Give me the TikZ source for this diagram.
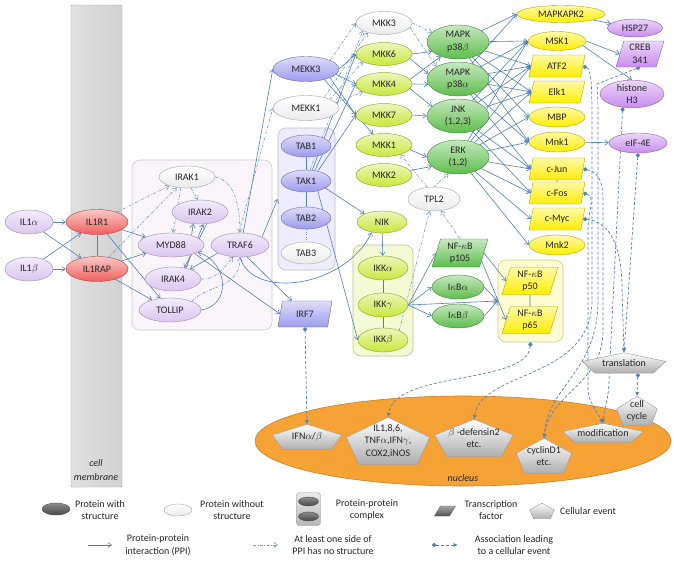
\documentclass[tikz,border=0pt]{standalone}
\usepackage{fontspec}
\setmainfont{Carlito}
\usetikzlibrary{shapes.geometric,arrows.meta,calc,backgrounds}
\pgfdeclarelayer{edges}
\pgfdeclarelayer{pent}
\pgfsetlayers{background,edges,pent,main}
\definecolor{ec}{HTML}{4F81BD}
\definecolor{lav}{HTML}{DCC6F2}
\definecolor{redn}{HTML}{F0605E}
\definecolor{bv}{HTML}{9D9BEE}
\definecolor{purp}{HTML}{C88CEE}
\definecolor{yg}{HTML}{C8E83A}
\definecolor{grn}{HTML}{5DBE4B}
\definecolor{yel}{HTML}{FFEE00}
\definecolor{orng}{HTML}{F7A234}
\newcommand{\pentfill}[1]{\path[pentsh] (#1.north) -- ($(#1.north east)!0.42!(#1.south east)$) -- ($(#1.south east)!0.15!(#1.south west)$) -- ($(#1.south west)!0.15!(#1.south east)$) -- ($(#1.north west)!0.42!(#1.south west)$) -- cycle;}
\tikzset{
  base/.style={font=\fontsize{10}{12.5}\selectfont, text=black!85, inner sep=0pt, align=center, line width=0.4pt},
  ell/.style={base, ellipse},
  tfbox/.style={base, trapezium, trapezium left angle=75, trapezium right angle=105, trapezium stretches=true},
  sz/.style 2 args={minimum width=#1pt, minimum height=#2pt},
  col/.style={top color=#1!35!white, bottom color=#1, draw=#1!70!black},
  wht/.style={top color=white, bottom color=black!8, draw=black!35},
  grp/.style={rounded corners=8pt, inner sep=0pt, line width=0.6pt},
  pentsh/.style={top color=white, bottom color=black!32, draw=black!40, line width=0.4pt},
  ppi/.style={draw=ec, line width=0.6pt, -{Straight Barb[length=3.5pt,width=5pt]}},
  lnk/.style={draw=ec, line width=0.6pt},
  dd/.style={draw=ec!80, line width=0.6pt, dash pattern=on 3pt off 1.5pt on 0.8pt off 1.5pt, -{Straight Barb[length=3.5pt,width=5pt]}},
  ddl/.style={draw=ec!80, line width=0.6pt, dash pattern=on 1pt off 1.5pt},
  assoc/.style={draw=ec, line width=0.7pt, dash pattern=on 3pt off 2pt, {Circle[length=4.2pt,width=4.2pt]}-{Latex[length=4.5pt,width=4pt]}},
}
\begin{document}
\begin{tikzpicture}[x=1pt,y=-1pt]
\useasboundingbox (0,0) rectangle (674,560);
\begin{pgfonlayer}{background}
\fill[white] (0,0) rectangle (674,560);
\node[draw=black!35, left color=black!12, right color=black!18, inner sep=0pt, sz={51}{482}, rounded corners=1pt] (mem) at (96.5,246) {};
\node[ellipse, fill=orng, draw=orng!80!black, line width=0.6pt, sz={416}{90}] (nuc) at (463,441) {};
\node[grp, fill=violet!4, draw=black!20, sz={140}{170}] (IRAKbox) at (202,245) {};
\node[grp, fill=blue!7, draw=black!25, sz={57}{142}] (TABbox) at (306.5,199) {};
\node[grp, fill=yg!22, draw=yg!60!black!50, sz={60}{111}] (IKKbox) at (383,300.5) {};
\node[grp, fill=yel!18, draw=yel!60!black!50, sz={65}{82}] (NFbox) at (530.5,301) {};
\end{pgfonlayer}

\node[base, font=\fontsize{10}{14}\selectfont\itshape] (memlab) at (96,470) {cell\\membrane};
\node[base, font=\fontsize{10}{12}\selectfont\itshape] (nuclab) at (463,478) {nucleus};

% receptors
\node[ell, sz={48}{24}, col=lav] (IL1a) at (29,222) {IL1$\alpha$};
\node[ell, sz={48}{24}, col=lav] (IL1b) at (29,269) {IL1$\beta$};
\node[ell, sz={62}{25}, col=redn] (IL1R1) at (97,222) {IL1R1};
\node[ell, sz={62}{25}, col=redn] (IL1RAP) at (97,269) {IL1RAP};
% IRAK complex
\node[ell, sz={56}{22}, wht] (IRAK1) at (187,177) {IRAK1};
\node[ell, sz={56}{24}, col=lav] (IRAK2) at (200,212) {IRAK2};
\node[ell, sz={66}{24}, col=lav] (MYD88) at (171,245) {MYD88};
\node[ell, sz={58}{24}, col=lav] (TRAF6) at (240,245) {TRAF6};
\node[ell, sz={56}{24}, col=lav] (IRAK4) at (173,279) {IRAK4};
\node[ell, sz={62}{24}, col=lav] (TOLLIP) at (170,310) {TOLLIP};
% MEKK / TAB
\node[ell, sz={66}{25}, col=bv] (MEKK3) at (306,69) {MEKK3};
\node[ell, sz={66}{25}, wht] (MEKK1) at (306,108) {MEKK1};
\node[ell, sz={50}{22}, col=bv] (TAB1) at (306,146) {TAB1};
\node[ell, sz={50}{22}, col=bv] (TAK1) at (306,181) {TAK1};
\node[ell, sz={50}{22}, col=bv] (TAB2) at (306,218) {TAB2};
\node[ell, sz={50}{22}, wht] (TAB3) at (306,253) {TAB3};
\node[tfbox, sz={54}{26}, col=bv] (IRF7) at (305,314) {IRF7};
% MKK
\node[ell, sz={56}{23}, wht] (MKK3) at (384,23) {MKK3};
\node[ell, sz={56}{23}, col=yg] (MKK6) at (384,54) {MKK6};
\node[ell, sz={56}{23}, col=yg] (MKK4) at (384,84) {MKK4};
\node[ell, sz={56}{23}, col=yg] (MKK7) at (384,115) {MKK7};
\node[ell, sz={56}{23}, col=yg] (MKK1) at (384,145) {MKK1};
\node[ell, sz={56}{23}, col=yg] (MKK2) at (384,175) {MKK2};
% MAPK
\node[ell, sz={62}{34}, col=grn] (p38b) at (458,42) {MAPK\\p38$\beta$};
\node[ell, sz={62}{34}, col=grn] (p38a) at (458,79) {MAPK\\p38$\alpha$};
\node[ell, sz={62}{34}, col=grn] (JNK) at (458,116) {JNK\\(1,2,3)};
\node[ell, sz={62}{34}, col=grn] (ERK) at (458,157) {ERK\\(1,2)};
\node[ell, sz={52}{24}, wht] (TPL2) at (434,199) {TPL2};
% NF-kB pathway
\node[ell, sz={50}{22}, col=yg] (NIK) at (382,222) {NIK};
\node[ell, sz={50}{24}, col=yg] (IKKa) at (383,268) {IKK$\alpha$};
\node[ell, sz={50}{24}, col=yg] (IKKg) at (383,305) {IKK$\gamma$};
\node[ell, sz={50}{24}, col=yg] (IKKb) at (383,340) {IKK$\beta$};
\node[tfbox, sz={56}{28}, col=grn] (p105) at (460,253) {NF-$\kappa$B\\p105};
\node[ell, sz={52}{24}, col=grn] (IkBa) at (458,287) {I$\kappa$B$\alpha$};
\node[ell, sz={52}{24}, col=grn] (IkBb) at (458,316) {I$\kappa$B$\beta$};
\node[tfbox, sz={56}{27}, col=yel] (p50) at (530,281) {NF-$\kappa$B\\p50};
\node[tfbox, sz={56}{27}, col=yel] (p65) at (530,320) {NF-$\kappa$B\\p65};
% targets
\node[ell, sz={88}{17}, col=yel] (MAPKAPK2) at (561,14) {MAPKAPK2};
\node[ell, sz={58}{19}, col=yel] (MSK1) at (557,41) {MSK1};
\node[tfbox, sz={56}{22}, col=yel] (ATF2) at (557,66) {ATF2};
\node[tfbox, sz={56}{22}, col=yel] (Elk1) at (557,92) {Elk1};
\node[ell, sz={56}{20}, col=yel] (MBP) at (557,117) {MBP};
\node[ell, sz={56}{20}, col=yel] (Mnk1) at (557,142) {Mnk1};
\node[tfbox, sz={56}{22}, col=yel] (cJun) at (557,169) {c-Jun};
\node[tfbox, sz={56}{22}, col=yel] (cFos) at (557,193) {c-Fos};
\node[tfbox, sz={56}{22}, col=yel] (cMyc) at (557,219) {c-Myc};
\node[ell, sz={56}{20}, col=yel] (Mnk2) at (557,245) {Mnk2};
\node[ell, sz={55}{18}, col=purp] (HSP27) at (635,28) {HSP27};
\node[tfbox, sz={48}{26}, col=purp] (CREB) at (640,54) {CREB\\341};
\node[ell, sz={64}{27}, col=purp] (H3) at (632,94) {histone\\H3};
\node[ell, sz={58}{20}, col=purp] (eIF) at (638,143) {eIF-4E};
% cellular events
\node[base, sz={69}{25}] (IFN) at (307,437) {IFN$\alpha$/$\beta$};
\node[base, sz={83}{47}] (IL1s) at (388,441) {IL1,8,6,\\TNF$\alpha$,IFN$\gamma$,\\COX2,iNOS};
\node[base, sz={78}{37}] (bdef) at (474,438) {$\beta$ -defensin2\\etc.};
\node[base, sz={55}{35}] (cyc) at (544,456) {cyclinD1\\etc.};
\node[base, sz={40}{29}] (ccyc) at (637,411) {cell\\cycle};
\node[base, sz={80}{19}] (modif) at (603,433) {modification};
\node[base, sz={83}{20}] (transl) at (624,363) {translation};

% legend
\node[ell, sz={28}{12}, top color=black!45, bottom color=black!72, draw=black!70] (lgP) at (56,509) {};
\node[base] (lt1) at (100,510) {Protein with\\structure};
\node[ell, sz={28}{12}, wht] (lgW) at (178,510) {};
\node[base] (lt2) at (232,510) {Protein without\\structure};
\node[base, draw=black!40, rounded corners=3pt, top color=black!8, bottom color=black!28, sz={24}{33}] (lgCx) at (308.5,509) {};
\node[ell, sz={20}{9}, top color=black!45, bottom color=black!72, draw=black!70] (lgCa) at (308.5,501.5) {};
\node[ell, sz={20}{9}, top color=black!45, bottom color=black!72, draw=black!70] (lgCb) at (308.5,516.5) {};
\node[base] (lt3) at (367,510) {Protein-protein\\complex};
\node[tfbox, sz={21}{10}, top color=black!35, bottom color=black!68, draw=black!65, font=\fontsize{5}{5}\selectfont] (lgTF) at (445,511) {\phantom{I}};
\node[base] (lt4) at (491,510) {Transcription\\factor};
\node[base, sz={24}{15}] (lgEv) at (542,511) {};
\node[base] (lt5) at (588,511) {Cellular event};
\coordinate (la1) at (88,545); \coordinate (la2) at (112,545);
\node[base] (lt6) at (158,545) {Protein-protein\\interaction (PPI)};
\coordinate (lb1) at (253,545); \coordinate (lb2) at (278,545);
\node[base] (lt7) at (333,545) {At least one side of\\PPI has no structure};
\coordinate (lc1) at (432,545); \coordinate (lc2) at (458,545);
\node[base] (lt8) at (514,545) {Association leading\\to a cellular event};

\begin{pgfonlayer}{pent}
\pentfill{IFN}\pentfill{IL1s}\pentfill{bdef}\pentfill{cyc}\pentfill{ccyc}\pentfill{modif}\pentfill{transl}\pentfill{lgEv}
\end{pgfonlayer}

\begin{pgfonlayer}{edges}
% receptors
\draw[ppi] (IL1a) -- (IL1R1);
\draw[ppi] (IL1a) -- (IL1RAP);
\draw[ppi] (IL1b) -- (IL1R1);
\draw[ppi] (IL1b) -- (IL1RAP);
\draw[lnk] (IL1R1) -- (IL1RAP);
\draw[ppi] (IL1R1) -- (MYD88);
\draw[ppi] (IL1R1) -- (TOLLIP);
\draw[ppi] (IL1RAP) -- (MYD88);
\draw[ppi] (IL1RAP) -- (TOLLIP);
\draw[dd] (IL1R1) -- (IRAK1);
\draw[dd] (IL1RAP) -- (IRAK1);
% IRAK complex
\draw[ppi] (MYD88.25) -- (IRAK2.-120);
\draw[ppi] (IRAK4.40) -- (IRAK2.-75);
\draw[ppi] (TRAF6.200) -- (IRAK4.30);
\draw[ppi] (IRAK2.-60) -- (IRAK4.45);
\draw[ppi] (TOLLIP.east) .. controls (232,305) and (228,262) .. (MYD88.-15);
\draw[dd] (IRAK1.-120) -- (MYD88.80);
\draw[dd] (IRAK1.-70) -- (IRAK2.100);
\draw[dd] (IRAK1.east) .. controls (232,180) and (240,200) .. (TRAF6.north);
\draw[dd] (IRAK4.east) .. controls (215,280) and (222,270) .. (TRAF6.-120);
\draw[dd] (TOLLIP.north east) .. controls (205,285) and (240,290) .. (TRAF6.south);
\draw[ppi] (MYD88.-20) -- (IRF7.west);
\draw[ppi] (TRAF6.-60) -- (IRF7.north west);
\draw[ppi] (TRAF6.75) -- (MEKK3.west);
\draw[dd] (TRAF6.95) -- (MEKK1.west);
\draw[ppi] (TRAF6.20) -- (TABbox.west);
\draw[ppi] (TRAF6.south) .. controls (252,300) and (345,288) .. (NIK.-135);
% TAB complex
\draw[lnk] (TAB1) -- (TAK1);
\draw[lnk] (TAK1) -- (TAB2);
\draw[ddl] (TAB2) -- (TAB3);
\draw[ppi] (TAK1.-20) -- (NIK.155);
\draw[ppi] (TAK1.-40) -- (IKKb.west);
\draw[ppi] (TAK1.60) -- (MKK6.west);
\draw[ppi] (TAK1.50) -- (MKK4.west);
\draw[ppi] (TAK1.40) -- (MKK7.west);
\draw[dd] (TAK1.70) -- (MKK3.-160);
% MEKK
\draw[ppi] (MEKK3.east) -- (MKK6.west);
\draw[ppi] (MEKK3.-10) -- (MKK4.west);
\draw[ppi] (MEKK3.-20) -- (MKK7.west);
\draw[ppi] (MEKK3.-30) -- (MKK1.135);
\draw[dd] (MEKK3.20) -- (MKK3.west);
\draw[dd] (MEKK1.30) -- (MKK3.-150);
\draw[dd] (MEKK1.20) -- (MKK6.-160);
\draw[dd] (MEKK1.10) -- (MKK4.-160);
% MKK -> MAPK
\draw[dd] (MKK3.east) -- (p38b.160);
\draw[dd] (MKK3.-10) -- (p38a.150);
\draw[ppi] (MKK6.east) -- (p38b.-160);
\draw[ppi] (MKK6.-10) -- (p38a.170);
\draw[ppi] (MKK4.10) -- (p38b.-140);
\draw[ppi] (MKK4.east) -- (p38a.-170);
\draw[ppi] (MKK4.-10) -- (JNK.160);
\draw[ppi] (MKK7.east) -- (JNK.west);
\draw[ppi] (MKK1.-10) -- (ERK.west);
\draw[ppi] (MKK2.10) -- (ERK.-160);
\draw[dd] (TPL2.120) -- (MKK1.-30);
\draw[dd] (TPL2.north) -- (ERK.-120);
\draw[dd] (p105.north) -- (TPL2.-60);
\draw[dd] (IKKb.30) -- (TPL2.-110);
% IKK
\draw[ppi] (NIK) -- (IKKa);
\draw[lnk] (IKKa) -- (IKKg);
\draw[lnk] (IKKg) -- (IKKb);
\draw[ppi] (IKKg.east) -- (p105.west);
\draw[ppi] (IKKg.east) -- (IkBa.west);
\draw[ppi] (IKKg.east) -- (IkBb.west);
\draw[ppi] (IKKg.east) -- (NFbox.west);
\draw[ppi] (p105.east) -- (p50.west);
\draw[ppi] (p105.-20) -- (p65.west);
\draw[ppi] (IkBa.east) -- (NFbox.west);
\draw[ppi] (IkBb.east) -- (NFbox.west);
\draw[lnk] (p50) -- (p65);
% MAPK -> targets
\foreach \t in {MAPKAPK2,MSK1,ATF2,Elk1,MBP,Mnk1} \draw[ppi] (p38b) -- (\t.west);
\foreach \t in {MAPKAPK2,MSK1,ATF2,Elk1,Mnk1,cJun} \draw[ppi] (p38a) -- (\t.west);
\foreach \t in {MSK1,ATF2,Elk1,cJun,cFos} \draw[ppi] (JNK) -- (\t.west);
\foreach \t in {MSK1,ATF2,Elk1,MBP,Mnk1,cJun,cFos,cMyc,Mnk2} \draw[ppi] (ERK) -- (\t.west);
\draw[ppi] (MAPKAPK2) -- (HSP27);
\draw[ppi] (MSK1.east) -- (CREB.west);
\draw[ppi] (MSK1.-10) -- (H3.north);
\draw[ppi] (Mnk1) -- (eIF);
\draw[lnk] (cJun) -- (cFos);
% associations
\draw[assoc] (IRF7.south) -- (IFN.north);
\draw[assoc] (NFbox.south) .. controls (528,385) and (395,370) .. (IL1s.north);
\draw[assoc] (ATF2.east) .. controls (592,70) and (592,90) .. (592,130) -- (592,300) .. controls (592,380) and (482,370) .. (bdef.north);
\draw[assoc] (CREB.south) -- (597,84) .. controls (598,95) and (598,110) .. (598,130) -- (598,300) .. controls (598,372) and (548,385) .. (cyc.north);
\draw[assoc] (cJun.east) .. controls (600,172) and (603,185) .. (603,200) -- (603,330) .. controls (603,385) and (550,392) .. (cyc.north);
\draw[assoc] (cFos.east) .. controls (596,197) and (588,210) .. (588,230) -- (588,390) .. controls (588,400) and (596,410) .. (modif.north);
\draw[assoc] (H3.-125) -- (609,380) .. controls (609,398) and (604,408) .. (modif.north);
\draw[assoc] (cMyc.east) .. controls (612,222) and (622,250) .. (622,290) -- (transl.north);
\draw[assoc] (eIF.south) -- (transl.north);
\draw[assoc] ([xshift=14pt]transl.south) -- (ccyc.north);
% legend connectors
\draw[lnk] (lgCa) -- (lgCb);
\draw[ppi] (la1) -- (la2);
\draw[dd] (lb1) -- (lb2);
\draw[assoc] (lc1) -- (lc2);
\end{pgfonlayer}
\end{tikzpicture}
\end{document}
